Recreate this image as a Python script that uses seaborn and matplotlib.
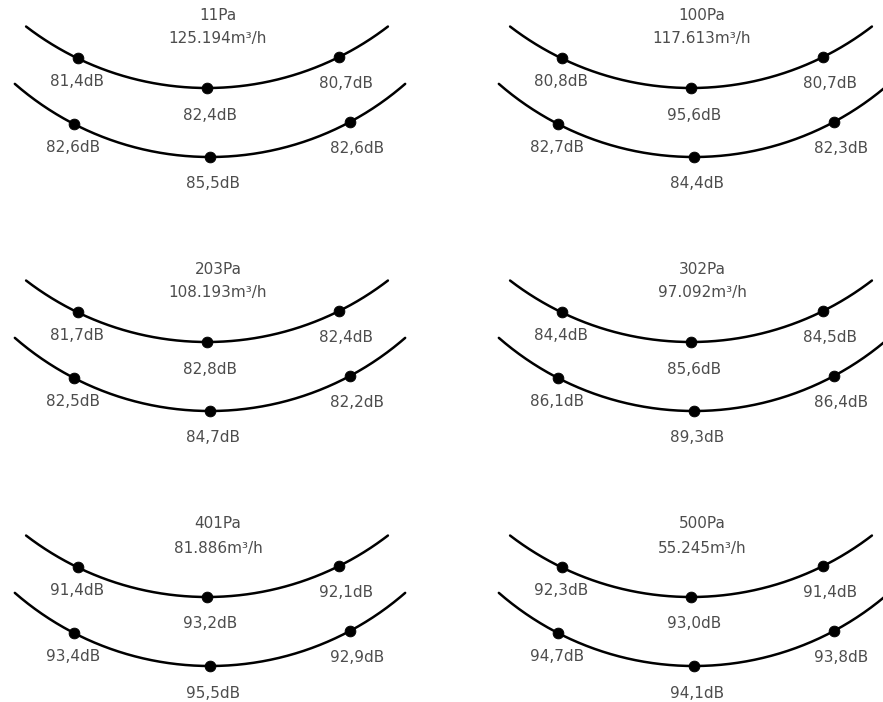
import numpy as np
import pandas as pd
import seaborn as sns
import matplotlib.pyplot as plt

# Measurements per operating point
pressures = ["11Pa", "100Pa", "203Pa", "302Pa", "401Pa", "500Pa"]
flows = ["125.194", "117.613", "108.193", "97.092", "81.886", "55.245"]
upper_db = [[81.4, 82.4, 80.7], [80.8, 95.6, 80.7], [81.7, 82.8, 82.4],
            [84.4, 85.6, 84.5], [91.4, 93.2, 92.1], [92.3, 93.0, 91.4]]
lower_db = [[82.6, 85.5, 82.6], [82.7, 84.4, 82.3], [82.5, 84.7, 82.2],
            [86.1, 89.3, 86.4], [93.4, 95.5, 92.9], [94.7, 94.1, 93.8]]

# Layout (pixels, y downward)
col_x = [207, 691]
row_y = [88, 342, 597]
R = 297
arcs = {  # name: (dx, dy, half angle, dot angles)
    "upper": (0, 0, 0.655, [-0.45, 0.0, 0.46]),
    "lower": (3, 69, 0.717, [-0.475, 0.0, 0.49]),
}
label_dx = [-1, 3, 7]
label_dy = [23, 27, 26]
txt = dict(ha="center", va="center", fontsize=11, color="#4d4d4d")

sns.set_theme(style="white")
fig = plt.figure(figsize=(8.83, 7.02), dpi=100)
ax = fig.add_axes([0, 0, 1, 1])

lines, dots = [], []
for i, p in enumerate(pressures):
    cx, cy = col_x[i % 2], row_y[i // 2]
    for name, vals in (("upper", upper_db[i]), ("lower", lower_db[i])):
        dx, dy, half, dot_t = arcs[name]
        t = np.linspace(-half, half, 200)
        lines.append(pd.DataFrame({
            "x": cx + dx + R * np.sin(t),
            "y": cy + dy - R * (1 - np.cos(t)),
            "arc": f"{i}-{name}",
        }))
        for k, (tt, v) in enumerate(zip(dot_t, vals)):
            x = cx + dx + R * np.sin(tt)
            y = cy + dy - R * (1 - np.cos(tt))
            dots.append({"x": x, "y": y})
            ax.text(x + label_dx[k], y + label_dy[k],
                    f"{v:.1f}".replace(".", ",") + "dB", **txt)
    ax.text(cx + 11, cy - 73, p, **txt)
    ax.text(cx + 11, cy - 49, flows[i] + "m³/h", **txt)

line_df = pd.concat(lines, ignore_index=True)
dot_df = pd.DataFrame(dots)

sns.lineplot(data=line_df, x="x", y="y", units="arc", estimator=None,
             sort=False, color="black", linewidth=1.8, ax=ax)
sns.scatterplot(data=dot_df, x="x", y="y", color="black", s=60,
                edgecolor="black", zorder=3, ax=ax)

ax.set_xlim(0, 883)
ax.set_ylim(702, 0)
ax.axis("off")

fig.savefig("out.png", dpi=100, facecolor="white")
